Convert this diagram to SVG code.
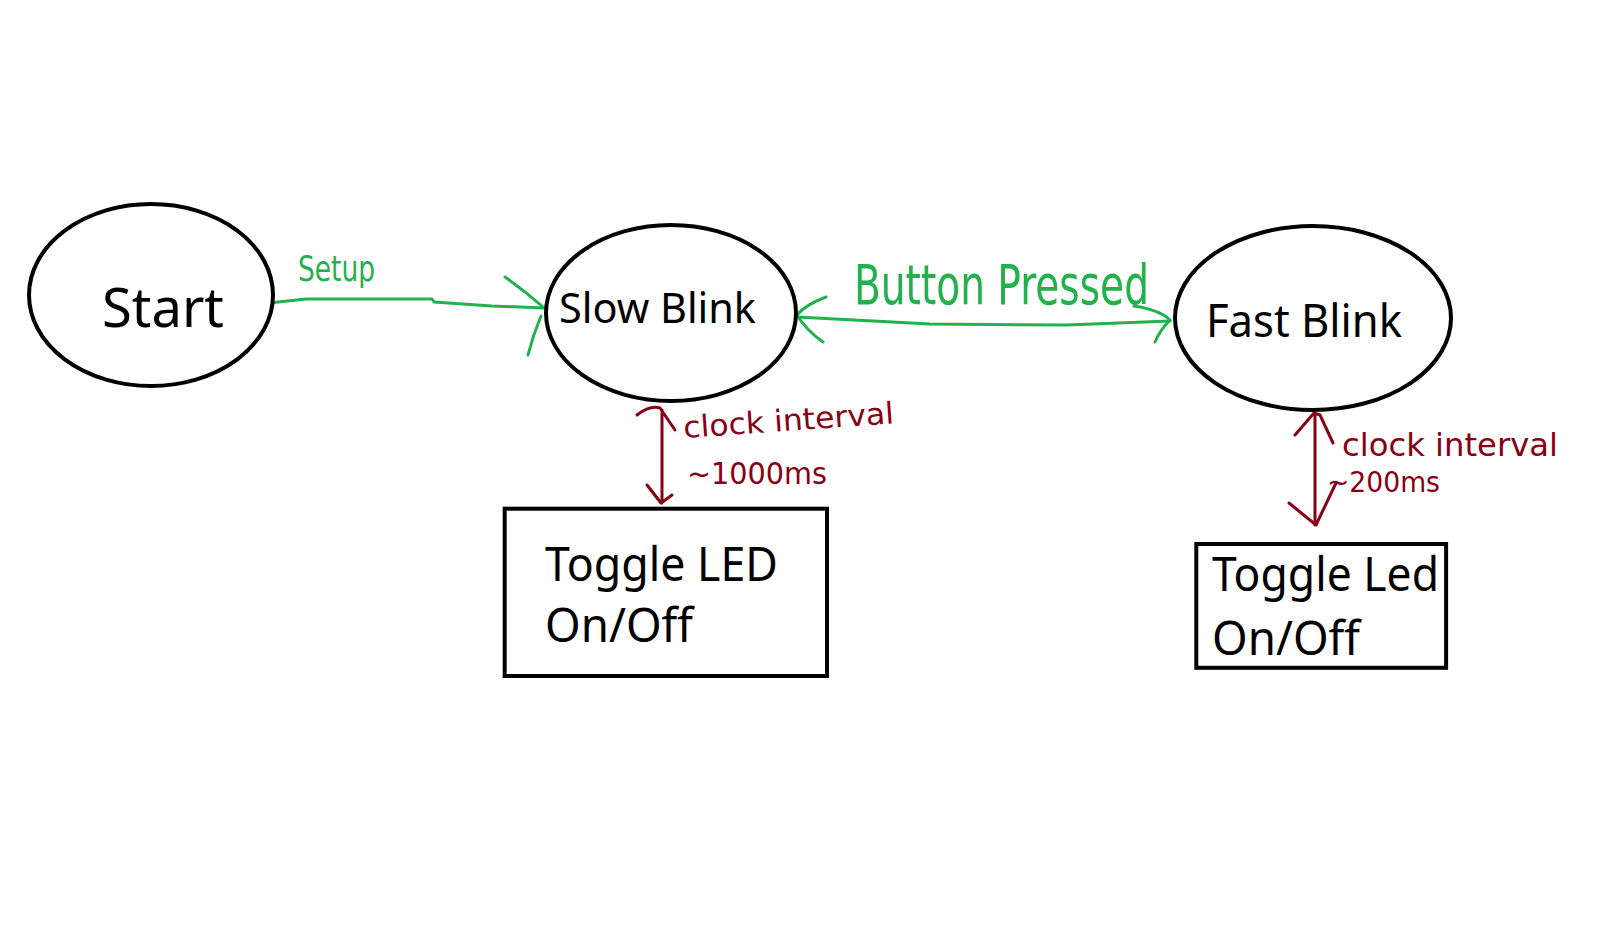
<svg xmlns="http://www.w3.org/2000/svg" width="1607" height="931" viewBox="0 0 1607 931">
<style>
.node{fill:#fff;stroke:#000;stroke-width:4}
.lbl{font-family:"Noto Sans","Open Sans",sans-serif;fill:#000}
.g{fill:none;stroke:#22b14c;stroke-width:3;stroke-linecap:round;stroke-linejoin:round}
.r{fill:none;stroke:#880015;stroke-width:3;stroke-linecap:round;stroke-linejoin:round}
.gt{font-family:"DejaVu Sans Condensed","DejaVu Sans",sans-serif;fill:#22b14c}
.rt{font-family:"DejaVu Sans Condensed","DejaVu Sans",sans-serif;fill:#880015}
</style>
<rect width="1607" height="931" fill="#fff"/>
<g id="connectors">
<path class="g" d="M269,303 L306,299 L432,299 L434,302 L492,306 L544,308"/>
<path class="g" d="M505,277 Q526,292 543,307 M528,355 Q533,335 541,316"/>
<path class="g" d="M797,317 L930,324 L1067,325 L1170,321"/>
<path class="g" d="M826,297 Q805,305 797,315 Q806,330 823,342 M1134,306 Q1160,310 1170,320 Q1160,330 1155,342"/>
<path class="r" d="M662,410 L662,503 M637,415 Q650,405 660,408 L675,430 M647,485 L661,503 L672,495"/>
<path class="r" d="M1315,415 L1315,525 M1295,435 L1314,413 L1320,415 L1333,443 M1289,503 L1316,525 L1336,483"/>
<text class="gt" x="298" y="281" font-size="36" textLength="77" lengthAdjust="spacingAndGlyphs">Setup</text>
<text class="gt" x="854" y="304" font-size="56" textLength="295" lengthAdjust="spacingAndGlyphs">Button Pressed</text>
<text class="rt" x="684" y="438" font-size="30" textLength="211" lengthAdjust="spacingAndGlyphs" transform="rotate(-4 684 438)">clock interval</text>
<text class="rt" x="687" y="484" font-size="30" textLength="140" lengthAdjust="spacingAndGlyphs">~1000ms</text>
<text class="rt" x="1342" y="456" font-size="32" textLength="216" lengthAdjust="spacingAndGlyphs">clock interval</text>
<text class="rt" x="1327" y="492" font-size="28" textLength="113" lengthAdjust="spacingAndGlyphs">~200ms</text>
</g>
<g id="start">
<ellipse class="node" cx="151" cy="295" rx="122" ry="91"/>
<text class="lbl" x="102" y="327" font-size="55" textLength="122" lengthAdjust="spacingAndGlyphs">Start</text>
</g>
<g id="slow-blink">
<ellipse class="node" cx="671" cy="313" rx="125" ry="88"/>
<text class="lbl" x="559" y="323" font-size="42" textLength="197" lengthAdjust="spacingAndGlyphs">Slow Blink</text>
</g>
<g id="fast-blink">
<ellipse class="node" cx="1313" cy="318" rx="138" ry="92"/>
<text class="lbl" x="1206" y="337" font-size="46" textLength="196" lengthAdjust="spacingAndGlyphs">Fast Blink</text>
</g>
<g id="toggle-slow">
<rect class="node" x="504.7" y="508.7" width="322.3" height="167.3"/>
<text class="lbl" x="545" y="581" font-size="48" textLength="233" lengthAdjust="spacingAndGlyphs">Toggle LED</text>
<text class="lbl" x="545" y="642" font-size="48" textLength="148" lengthAdjust="spacingAndGlyphs">On/Off</text>
</g>
<g id="toggle-fast">
<rect class="node" x="1196.3" y="544" width="249.8" height="123.8" stroke-width="4.5"/>
<text class="lbl" x="1212" y="591" font-size="48" textLength="227" lengthAdjust="spacingAndGlyphs">Toggle Led</text>
<text class="lbl" x="1212" y="655" font-size="48" textLength="148" lengthAdjust="spacingAndGlyphs">On/Off</text>
</g>
</svg>
